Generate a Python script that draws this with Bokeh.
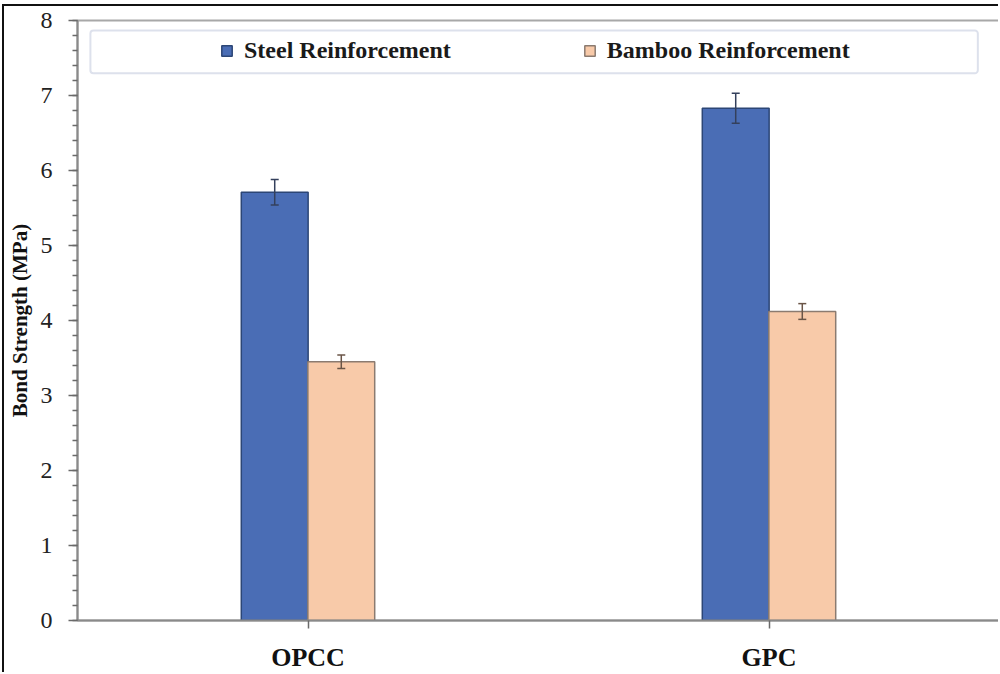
from bokeh.plotting import figure
from bokeh.models import ColumnDataSource, FactorRange, Range1d, BoxAnnotation, FixedTicker
from bokeh.transform import dodge
from bokeh.embed import file_html
from bokeh.resources import INLINE

categories = ["OPCC", "GPC"]
steel = [5.71, 6.83]
bamboo = [3.45, 4.12]
steel_err = [0.17, 0.20]
bamboo_err = [0.09, 0.105]
y_ticks = [0, 1, 2, 3, 4, 5, 6, 7, 8]
series_names = ["Steel Reinforcement", "Bamboo Reinforcement"]

src = ColumnDataSource(dict(
    cats=categories,
    steel=steel,
    bamboo=bamboo,
    s_lo=[v - e for v, e in zip(steel, steel_err)],
    s_hi=[v + e for v, e in zip(steel, steel_err)],
    b_lo=[v - e for v, e in zip(bamboo, bamboo_err)],
    b_hi=[v + e for v, e in zip(bamboo, bamboo_err)],
))

SERIF = "Liberation Serif"

p = figure(x_range=FactorRange(factors=categories, range_padding=0),
           y_range=Range1d(0, 8),
           width=996, height=668,
           output_backend="svg", toolbar_location=None,
           min_border_left=73, min_border_right=1,
           min_border_top=14, min_border_bottom=51)
# outer picture frame (left and top edges)
p.styles = {"margin-left": "2px", "margin-top": "4px",
            "border-left": "2px solid #111111", "border-top": "2px solid #111111"}

p.xgrid.visible = False
p.ygrid.visible = False
p.outline_line_color = "#a8a8a8"
p.outline_line_width = 2

# legend frame
box = BoxAnnotation(left=0.028, right=1.953, top=7.867, bottom=7.297,
                    fill_color="white", fill_alpha=1.0,
                    line_color="#8d9cc0", line_width=2, border_radius=3)
p.add_layout(box)

off = 0.0722
bw = 0.145
p.vbar(x=dodge("cats", -off, range=p.x_range), top="steel", width=bw, source=src,
       fill_color="#4a6db5", line_color="#2c4676", line_width=1.5,
       legend_label=series_names[0])
p.vbar(x=dodge("cats", off, range=p.x_range), top="bamboo", width=bw, source=src,
       fill_color="#f8caa9", line_color="#8b7b70", line_width=1.5,
       legend_label=series_names[1])

# error bars
for o, lo, hi, col in [(-off, "s_lo", "s_hi", "#34405c"), (off, "b_lo", "b_hi", "#6a5547")]:
    xs = dodge("cats", o, range=p.x_range)
    p.segment(x0=xs, y0=lo, x1=xs, y1=hi, source=src, line_color=col, line_width=1.5)
    p.scatter(x=xs, y=lo, source=src, marker="dash", size=8, line_color=col, line_width=1.5)
    p.scatter(x=xs, y=hi, source=src, marker="dash", size=8, line_color=col, line_width=1.5)

# y axis
ya = p.yaxis[0]
ya.ticker = FixedTicker(ticks=y_ticks, minor_ticks=[i / 5 for i in range(41)])
ya.axis_line_color = "#8a8a8a"
ya.axis_line_width = 2
ya.major_tick_line_color = "#6a6a6a"
ya.major_tick_line_width = 1.5
ya.major_tick_out = 9
ya.major_tick_in = 0
ya.minor_tick_line_color = "#6a6a6a"
ya.minor_tick_line_width = 1.5
ya.minor_tick_out = 5
ya.minor_tick_in = 0
ya.major_label_text_font = SERIF
ya.major_label_text_font_size = "24px"
ya.major_label_text_color = "#222222"
ya.major_label_standoff = 16
ya.axis_label = "Bond Strength (MPa)"
ya.axis_label_text_font = SERIF
ya.axis_label_text_font_style = "bold"
ya.axis_label_text_font_size = "21px"
ya.axis_label_text_color = "#111111"
ya.axis_label_standoff = 6

# x axis
xa = p.xaxis[0]
xa.axis_line_color = "#8a8a8a"
xa.axis_line_width = 2
xa.major_tick_line_color = "#6a6a6a"
xa.major_tick_line_width = 1.5
xa.major_tick_out = 8
xa.major_tick_in = 0
xa.minor_tick_out = 0
xa.major_label_text_font = SERIF
xa.major_label_text_font_style = "bold"
xa.major_label_text_font_size = "26px"
xa.major_label_text_color = "#111111"
xa.major_label_standoff = 14

lg = p.legend[0]
lg.orientation = "horizontal"
lg.location = (143, 556)
lg.padding = 0
lg.margin = 0
lg.border_line_alpha = 0
lg.background_fill_alpha = 0
lg.glyph_width = 13
lg.glyph_height = 13
lg.label_standoff = 11
lg.spacing = 132
lg.label_text_font = SERIF
lg.label_text_font_style = "bold"
lg.label_text_font_size = "24px"
lg.label_text_color = "#1a1a1a"

open("out.html", "w").write(file_html(p, INLINE))
